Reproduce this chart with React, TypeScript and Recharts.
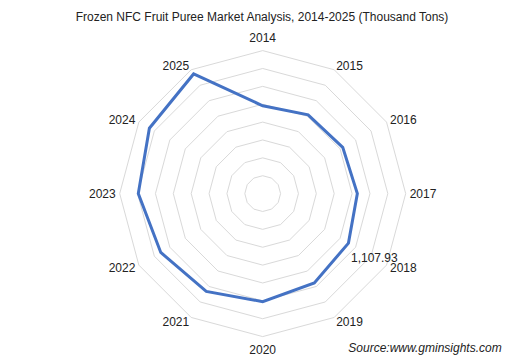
import React from 'react';
import { RadarChart, Radar, PolarGrid, PolarAngleAxis, PolarRadiusAxis, LabelList } from 'recharts';

// Frozen NFC fruit puree volumes, thousand tons
const years = ['2014', '2015', '2016', '2017', '2018', '2019', '2020', '2021', '2022', '2023', '2024', '2025'];
const volumes = [983, 1017, 1034, 1059, 1107.93, 1155, 1209, 1263, 1317, 1392, 1464, 1546];
const radiusDomain = [0, 1600];
const labelledYear = '2018';

const CX = 262.7;
const CY = 193.6;
const OUTER = 143;
const FONT = '"Liberation Sans", Arial, sans-serif';

const chartData = years.map((year, i) => ({ year, value: volumes[i] }));

const AngleTick = (props: any) => {
    const { x, y, payload } = props;
    const dx = x - CX;
    const dy = y - CY;
    const len = Math.hypot(dx, dy) || 1;
    const ux = dx / len;
    const uy = dy / len;
    const vx = CX + ux * OUTER;
    const vy = CY + uy * OUTER;
    let anchor = 'middle';
    let tx = vx;
    let ty = vy + uy * 13;
    if (Math.abs(ux) > 0.01) {
        anchor = ux > 0 ? 'start' : 'end';
        tx = vx + ux * 4;
        ty = vy + uy * 5;
    }
    return (
        <text x={tx} y={ty} dy="0.35em" textAnchor={anchor} fontSize={12} fontFamily={FONT} fill="#222">
            {payload.value}
        </text>
    );
};

const renderValueLabel = (props: any) => {
    const { x, y, value, index } = props;
    if (years[index] !== labelledYear) return null;
    return (
        <text x={x + 2.5} y={y + 15} dy="0.35em" textAnchor="start" fontSize={12} fontFamily={FONT} fill="#222">
            {Number(value).toLocaleString('en-US', { minimumFractionDigits: 2 })}
        </text>
    );
};

const App: React.FC = () => {
    return (
        <div style={{ position: 'absolute', left: 0, top: 0, width: 524, height: 362, background: '#fff' }}>
            <RadarChart
                width={524}
                height={362}
                data={chartData}
                cx={CX}
                cy={CY}
                outerRadius={OUTER}
                margin={{ top: 0, right: 0, bottom: 0, left: 0 }}
            >
                <text x={262} y={17} dy="0.35em" textAnchor="middle" fontSize={12} fontFamily={FONT} fill="#222">
                    Frozen NFC Fruit Puree Market Analysis, 2014-2025 (Thousand Tons)
                </text>
                <PolarGrid gridType="polygon" radialLines={false} stroke="#d9d9d9" strokeWidth={1} />
                <PolarAngleAxis dataKey="year" tick={<AngleTick />} axisLine={false} tickLine={false} />
                <PolarRadiusAxis domain={radiusDomain} tickCount={9} angle={90} axisLine={false} tick={false} />
                <Radar
                    dataKey="value"
                    stroke="#4472C4"
                    strokeWidth={3}
                    fill="none"
                    fillOpacity={0}
                    dot={false}
                    isAnimationActive={false}
                >
                    <LabelList dataKey="value" content={renderValueLabel} />
                </Radar>
                <text x={501.7} y={347.7} dy="0.35em" textAnchor="end" fontSize={12} fontStyle="italic" fontFamily={FONT} fill="#222">
                    Source:www.gminsights.com
                </text>
            </RadarChart>
        </div>
    );
};

export default App;
